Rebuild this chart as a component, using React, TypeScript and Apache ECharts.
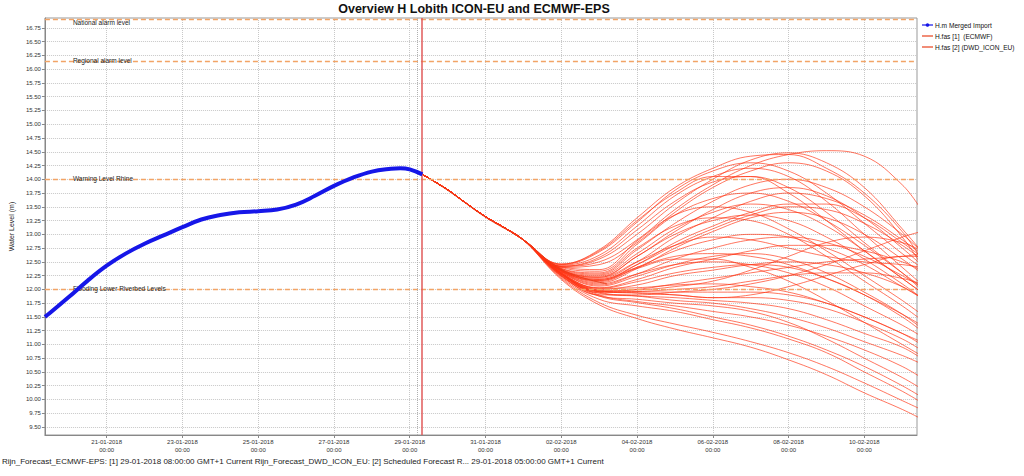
import React, { useEffect, useRef } from "react";
import * as echarts from "echarts";

// Time is expressed in days since 19-01-2018 00:00 (GMT+1)
const xTickDays = [2, 4, 6, 8, 10, 12, 14, 16, 18, 20, 22];
const yTickValues = [
  9.5, 9.75, 10.0, 10.25, 10.5, 10.75, 11.0, 11.25, 11.5, 11.75, 12.0, 12.25, 12.5, 12.75,
  13.0, 13.25, 13.5, 13.75, 14.0, 14.25, 14.5, 14.75, 15.0, 15.25, 15.5, 15.75, 16.0, 16.25,
  16.5, 16.75,
];

// Observed (H.m Merged Import)
const obsDays = [
  0.37, 0.5, 1.0, 1.5, 2.0, 2.5, 3.0, 3.5, 4.0, 4.5, 5.0, 5.5, 6.0, 6.5, 7.0, 7.5, 8.0, 8.5, 9.0,
  9.5, 9.75, 10.0, 10.333,
];
const obsValues = [
  11.5, 11.57, 11.86, 12.16, 12.43, 12.65, 12.83, 12.98, 13.13, 13.27, 13.35, 13.4, 13.42, 13.45,
  13.54, 13.7, 13.88, 14.03, 14.14, 14.19, 14.2, 14.18, 14.09,
];

// Common forecast trunk (29-01 08:00 .. 01-02 00:00)
const trunkDays = [10.333, 11, 11.5, 12, 12.5, 13];
const trunkValues = [14.09, 13.81, 13.56, 13.32, 13.12, 12.9];

// ECMWF ensemble members, daily from 02-02 00:00 to 11-02 00:00, plus 11-02 12:00
const memberDays = [14, 15, 16, 17, 18, 19, 20, 21, 22, 23, 23.5];
const m01 = [12.46, 12.72, 13.3, 13.85, 14.2, 14.42, 14.45, 14.2, 13.75, 13.05, 12.55];
const m02 = [12.42, 12.5, 12.9, 13.45, 13.9, 14.25, 14.45, 14.52, 14.42, 13.9, 13.45];
const m03 = [12.45, 12.68, 13.22, 13.8, 14.15, 14.3, 14.15, 13.75, 13.2, 12.65, 12.4];
const m04 = [12.42, 12.55, 13.0, 13.55, 14.0, 14.35, 14.48, 14.3, 13.85, 13.1, 12.7];
const m05 = [12.44, 12.62, 13.15, 13.7, 14.05, 14.2, 14.05, 13.6, 13.0, 12.4, 12.1];
const m06 = [12.4, 12.45, 12.85, 13.4, 13.85, 14.15, 14.3, 14.15, 13.7, 12.95, 12.45];
const m07 = [12.42, 12.58, 13.08, 13.6, 13.95, 14.05, 13.85, 13.4, 12.85, 12.3, 12.0];
const m08 = [12.46, 12.7, 13.25, 13.75, 14.05, 14.05, 13.75, 13.25, 12.7, 12.2, 11.95];
const m09 = [12.38, 12.28, 12.72, 13.2, 13.6, 13.9, 14.0, 13.85, 13.5, 13.0, 12.7];
const m10 = [12.36, 12.24, 12.6, 13.05, 13.45, 13.75, 13.85, 13.7, 13.3, 12.75, 12.45];
const m11 = [12.4, 12.33, 12.82, 13.35, 13.65, 13.75, 13.6, 13.25, 12.8, 12.3, 12.05];
const m12 = [12.35, 12.2, 12.5, 12.95, 13.3, 13.6, 13.75, 13.65, 13.35, 12.9, 12.65];
const m13 = [12.37, 12.26, 12.65, 13.1, 13.4, 13.55, 13.45, 13.15, 12.7, 12.2, 11.95];
const m14 = [12.34, 12.16, 12.45, 12.85, 13.15, 13.4, 13.55, 13.55, 13.3, 12.85, 12.6];
const m15 = [12.41, 12.36, 12.88, 13.35, 13.5, 13.4, 13.1, 12.7, 12.25, 11.8, 11.55];
const m16 = [12.36, 12.22, 12.6, 13.0, 13.25, 13.35, 13.25, 12.95, 12.55, 12.1, 11.85];
const m17 = [12.38, 12.3, 12.75, 13.15, 13.3, 13.25, 13.0, 12.6, 12.15, 11.7, 11.45];
const m18 = [12.33, 12.12, 12.38, 12.75, 13.05, 13.3, 13.4, 13.3, 13.0, 12.55, 12.3];
const m19 = [12.34, 12.14, 12.4, 12.7, 12.9, 13.0, 12.95, 12.75, 12.45, 12.05, 11.85];
const m20 = [12.32, 12.08, 12.28, 12.55, 12.75, 12.9, 12.95, 12.85, 12.6, 12.25, 12.05];
const m21 = [12.35, 12.18, 12.4, 12.6, 12.65, 12.6, 12.45, 12.2, 11.9, 11.55, 11.35];
const m22 = [12.3, 12.03, 12.18, 12.4, 12.55, 12.7, 12.8, 12.8, 12.7, 12.5, 12.35];
const m23 = [12.33, 12.1, 12.28, 12.45, 12.5, 12.45, 12.3, 12.05, 11.7, 11.35, 11.15];
const m24 = [12.32, 12.06, 12.24, 12.45, 12.6, 12.65, 12.55, 12.3, 11.95, 11.55, 11.3];
const m25 = [12.29, 12.0, 12.08, 12.25, 12.35, 12.45, 12.5, 12.45, 12.3, 12.05, 11.85];
const m26 = [12.34, 12.16, 12.38, 12.55, 12.55, 12.4, 12.15, 11.8, 11.4, 11.0, 10.8];
const m27 = [12.31, 12.02, 12.14, 12.3, 12.4, 12.45, 12.4, 12.2, 11.9, 11.5, 11.25];
const m28 = [12.28, 11.96, 12.0, 12.1, 12.2, 12.3, 12.4, 12.5, 12.55, 12.6, 12.65];
const m29 = [12.26, 11.9, 11.9, 11.95, 12.0, 12.1, 12.25, 12.45, 12.7, 12.95, 13.05];
const m30 = [12.28, 11.94, 11.96, 12.0, 12.05, 12.15, 12.25, 12.3, 12.3, 12.2, 12.1];
const m31 = [12.24, 11.88, 11.76, 11.65, 11.5, 11.35, 11.15, 10.9, 10.6, 10.25, 10.05];
const m32 = [12.18, 11.72, 11.47, 11.28, 11.12, 10.95, 10.72, 10.45, 10.12, 9.82, 9.65];
const m33 = [12.25, 11.9, 11.78, 11.7, 11.6, 11.5, 11.35, 11.15, 10.9, 10.6, 10.4];
const m34 = [12.22, 11.82, 11.7, 11.6, 11.45, 11.3, 11.1, 10.85, 10.5, 10.15, 9.95];
const m35 = [12.28, 11.95, 11.88, 11.8, 11.75, 11.65, 11.5, 11.3, 11.05, 10.8, 10.65];
const m36 = [12.26, 11.93, 11.88, 11.85, 11.8, 11.75, 11.65, 11.45, 11.2, 10.95, 10.75];
const m37 = [12.24, 11.88, 11.82, 11.75, 11.7, 11.6, 11.4, 11.1, 10.75, 10.4, 10.2];
const m38 = [12.28, 11.98, 11.93, 11.9, 11.85, 11.85, 11.8, 11.65, 11.4, 11.1, 10.9];
const m39 = [12.27, 11.97, 11.96, 11.95, 11.95, 11.95, 11.9, 11.75, 11.5, 11.2, 11.0];
const m40 = [12.3, 12.02, 12.03, 12.08, 12.1, 12.05, 11.95, 11.75, 11.5, 11.2, 11.05];
const m41 = [12.2, 11.76, 11.53, 11.37, 11.22, 11.05, 10.85, 10.6, 10.3, 9.98, 9.82];
const m42 = [12.3, 11.96, 11.94, 11.9, 11.85, 11.9, 12.05, 12.25, 12.45, 12.6, 12.6];
const m43 = [12.36, 12.22, 12.5, 12.8, 12.95, 12.9, 12.75, 12.6, 12.5, 12.45, 12.4];
const m44 = [12.35, 12.18, 12.45, 12.8, 13.1, 13.35, 13.5, 13.45, 13.2, 12.8, 12.55];
const m45 = [12.29, 11.98, 11.99, 12.05, 12.15, 12.35, 12.6, 12.85, 12.95, 12.85, 12.7];
const ecmwfMembers = [
  m01, m02, m03, m04, m05, m06, m07, m08, m09, m10, m11, m12, m13, m14, m15, m16, m17, m18, m19,
  m20, m21, m22, m23, m24, m25, m26, m27, m28, m29, m30, m31, m32, m33, m34, m35, m36, m37, m38,
  m39, m40, m41, m42, m43, m44, m45,
];

// DWD ICON-EU deterministic (to 03-02 05:00)
const dwdDays = [10.333, 11, 12, 13, 14, 15.208];
const dwdValues = [14.09, 13.8, 13.31, 12.9, 12.36, 12.1];

// Threshold levels
const levelNames = [
  "National alarm level",
  "Regional alarm level",
  "Warning Level Rhine",
  "Flooding Lower Riverbed Levels",
];
const levelValues = [16.9, 16.15, 14.0, 12.0];

const forecastTimeEcmwf = 10.333; // 29-01-2018 08:00
const forecastTimeDwd = 10.208; // 29-01-2018 05:00

const titleText = "Overview H Lobith ICON-EU and ECMWF-EPS";
const footerText =
  "Rijn_Forecast_ECMWF-EPS: [1] 29-01-2018 08:00:00 GMT+1 Current Rijn_Forecast_DWD_ICON_EU: [2] Scheduled Forecast R... 29-01-2018 05:00:00 GMT+1 Current";

const OBS_NAME = "H.m Merged Import";
const ECMWF_NAME = "H.fas [1]  (ECMWF)";
const DWD_NAME = "H.fas [2] (DWD_ICON_EU)";

const pad = (n: number) => (n < 10 ? "0" + n : "" + n);
const dayLabel = (d: number) => {
  const dt = new Date(Date.UTC(2018, 0, 19) + Math.round(d * 86400000));
  return `${pad(dt.getUTCDate())}-${pad(dt.getUTCMonth() + 1)}-${dt.getUTCFullYear()}\n00:00`;
};

export default function App() {
  const ref = useRef<HTMLDivElement>(null);
  useEffect(() => {
    document.body.style.margin = "0";
    const chart = echarts.init(ref.current!, null, { renderer: "svg" });
    const font = "Liberation Sans";
    const red = "#ff3414";

    const series: any[] = [];
    series.push({
      name: OBS_NAME,
      type: "line",
      data: obsDays.map((d, i) => [d, obsValues[i]]),
      smooth: 0.4,
      showSymbol: false,
      lineStyle: { color: "#1616e8", width: 4 },
      z: 5,
      markLine: {
        silent: true,
        symbol: ["none", "none"],
        animation: false,
        data: [
          ...levelValues.map((v, i) => ({
            yAxis: v,
            name: levelNames[i],
            lineStyle: { color: "#f2a466", type: [5, 3], width: 1.4 },
            label: {
              show: true,
              position: i === 0 ? "insideStartBottom" : "insideStartTop",
              formatter: "{b}",
              fontSize: 6.5,
              fontFamily: font,
              color: "#222",
              distance: i === 0 ? [28, -1] : [28, -3],
            },
          })),
          {
            xAxis: forecastTimeDwd,
            lineStyle: { color: "#b0b0b0", type: "dotted", width: 1 },
            label: { show: false },
          },
          {
            xAxis: forecastTimeEcmwf,
            lineStyle: { color: "#e05a5a", type: "solid", width: 1.5 },
            label: { show: false },
          },
        ],
      },
    });
    ecmwfMembers.forEach((m) => {
      const data = trunkDays
        .map((d, i) => [d, trunkValues[i]])
        .concat(memberDays.map((d, i) => [d, m[i]]));
      series.push({
        name: ECMWF_NAME,
        type: "line",
        data,
        smooth: 0.4,
        showSymbol: false,
        lineStyle: { color: red, width: 0.8, opacity: 0.85 },
        z: 3,
      });
    });
    series.push({
      name: DWD_NAME,
      type: "line",
      data: dwdDays.map((d, i) => [d, dwdValues[i]]),
      smooth: 0.4,
      showSymbol: false,
      lineStyle: { color: "#e8401c", width: 0.9 },
      z: 4,
    });

    const legendItems = [
      { name: OBS_NAME, color: "#1616e8", dot: true },
      { name: ECMWF_NAME, color: "#e8401c", dot: false },
      { name: DWD_NAME, color: "#e8401c", dot: false },
    ];
    const graphics: any[] = [];
    legendItems.forEach((it, i) => {
      const y = 25 + i * 11;
      graphics.push({
        type: "line",
        shape: { x1: 922, y1: y, x2: 933, y2: y },
        style: { stroke: it.color, lineWidth: 1.2 },
      });
      if (it.dot) {
        graphics.push({
          type: "circle",
          shape: { cx: 927.5, cy: y, r: 1.8 },
          style: { fill: it.color },
        });
      }
      graphics.push({
        type: "text",
        x: 935,
        y,
        style: {
          text: it.name,
          fontSize: 6.6,
          fontFamily: font,
          fill: "#111",
          verticalAlign: "middle",
        },
      });
    });
    graphics.push({
      type: "text",
      x: 2,
      y: 461,
      style: {
        text: footerText,
        fontSize: 8,
        fontFamily: font,
        fill: "#222",
        verticalAlign: "middle",
      },
    });

    chart.setOption({
      animation: false,
      backgroundColor: "#ffffff",
      textStyle: { fontFamily: font },
      title: {
        text: titleText,
        left: 469,
        top: -3,
        textAlign: "center",
        textStyle: { fontSize: 12.5, fontWeight: "bold", color: "#111", fontFamily: font },
      },
      grid: {
        left: 40,
        right: 107,
        top: 18,
        bottom: 41,
        show: true,
        borderColor: "#999",
        borderWidth: 1,
        backgroundColor: "#fff",
      },
      xAxis: {
        type: "value",
        min: 0.37,
        max: 23.39,
        axisLine: { show: true, lineStyle: { color: "#888" } },
        axisTick: {
          show: true,
          customValues: xTickDays,
          length: 3,
          lineStyle: { color: "#888" },
        },
        axisLabel: {
          customValues: xTickDays,
          formatter: (v: number) => dayLabel(v),
          fontSize: 6,
          lineHeight: 8,
          color: "#333",
          margin: 3,
        },
        splitLine: { show: true, lineStyle: { color: "#c8c8c8", type: "dotted" } },
      },
      yAxis: {
        type: "value",
        min: 9.355,
        max: 16.93,
        name: "Water Level (m)",
        nameLocation: "middle",
        nameGap: 28,
        nameRotate: 90,
        nameTextStyle: { fontSize: 7, color: "#222" },
        axisLine: { show: true, lineStyle: { color: "#888" } },
        axisTick: {
          show: true,
          customValues: yTickValues,
          length: 3,
          lineStyle: { color: "#888" },
        },
        axisLabel: {
          customValues: yTickValues,
          formatter: (v: number) => v.toFixed(2),
          fontSize: 6,
          color: "#333",
          margin: 4,
        },
        splitLine: { show: true, lineStyle: { color: "#c8c8c8", type: "dotted" } },
      },
      series,
      graphic: graphics,
    });
    return () => chart.dispose();
  }, []);
  return <div ref={ref} style={{ width: 1024, height: 476 }} />;
}
